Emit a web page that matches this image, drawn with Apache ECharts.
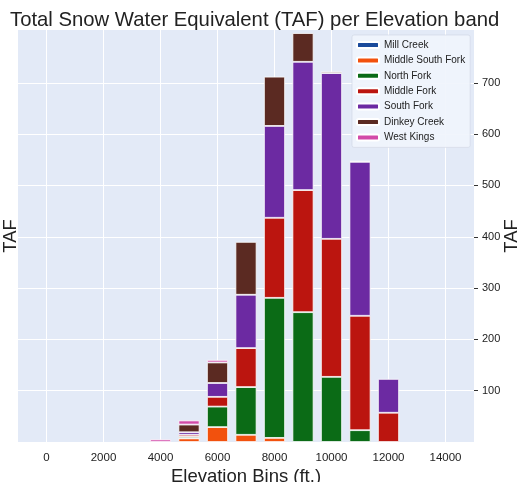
<!DOCTYPE html>
<html>
<head>
<meta charset="utf-8">
<script src="https://cdn.jsdelivr.net/npm/echarts@6/dist/echarts.min.js"></script>
<style>
html,body{margin:0;padding:0;background:#fff;}
#chart{width:529px;height:482px;}
</style>
</head>
<body>
<div id="chart"></div>
<script>
// Elevation bin centres (ft.) that carry bars
const elevationBins = [4000, 5000, 6000, 7000, 8000, 9000, 10000, 11000, 12000];
// Tick labels of the x axis
const xTickLabels = [0, 2000, 4000, 6000, 8000, 10000, 12000, 14000];
// Tick labels of the y axis
const yTickLabels = [100, 200, 300, 400, 500, 600, 700];

// Series values (TAF) per elevation bin
const millCreek       = [0, 0, 0, 0, 0, 0, 0, 0, 0];
const middleSouthFork = [0, 7, 29, 14, 8, 0, 0, 0, 0];
const northFork       = [0, 3, 40, 93, 273, 253, 127, 23, 0];
const middleFork      = [0, 4, 19, 76, 156, 238, 269, 223, 57];
const southFork       = [0, 5, 27, 104, 179, 250, 323, 300, 66];
const dinkeyCreek     = [0, 15, 40, 103, 96, 56, 3, 2, 0];
const westKings       = [5, 8, 5, 0, 0, 0, 0, 0, 0];

const seriesNames = ['Mill Creek', 'Middle South Fork', 'North Fork', 'Middle Fork', 'South Fork', 'Dinkey Creek', 'West Kings'];
const seriesValues = [millCreek, middleSouthFork, northFork, middleFork, southFork, dinkeyCreek, westKings];
const seriesColors = ['#1b4b9b', '#f2510d', '#0b6b16', '#bb150f', '#6c2aa2', '#5b2a22', '#d24aa8'];

// category axis spanning the visible elevation range, one slot per 1000 ft
const xCategories = [];
for (let v = -1000; v <= 15000; v += 1000) xCategories.push(String(v));
const showTick = (idx, val) => xTickLabels.indexOf(Number(val)) >= 0;

const FONT = 'Liberation Sans, Arial, sans-serif';

const chart = echarts.init(document.getElementById('chart'), null, {renderer: 'canvas'});
chart.setOption({
  animation: false,
  backgroundColor: '#ffffff',
  title: {
    text: 'Total Snow Water Equivalent (TAF) per Elevation band',
    left: 5, top: 5,
    textStyle: {fontFamily: FONT, fontSize: 20.3, fontWeight: 'normal', color: '#222'}
  },
  legend: {
    orient: 'vertical',
    left: 352, top: 35,
    itemWidth: 22, itemHeight: 6, itemGap: 5.4,
    icon: 'roundRect',
    backgroundColor: 'rgba(240,244,252,0.92)',
    borderColor: '#cfd5e2', borderWidth: 0.6, borderRadius: 2,
    padding: [5, 5, 5, 4],
    textStyle: {fontFamily: FONT, fontSize: 10, color: '#222'},
    data: seriesNames
  },
  grid: {
    left: 18, right: 55, top: 30, bottom: 40,
    outerBoundsMode: 'none',
    containLabel: false,
    show: true, backgroundColor: '#e3eaf7', borderWidth: 0
  },
  xAxis: {
    type: 'category',
    data: xCategories,
    boundaryGap: false,
    name: 'Elevation Bins (ft.)',
    nameLocation: 'middle',
    nameGap: 25,
    nameMoveOverlap: false,
    nameTextStyle: {fontFamily: FONT, fontSize: 18.5, color: '#222'},
    axisLine: {show: false},
    axisTick: {show: false},
    axisLabel: {interval: showTick, fontFamily: FONT, fontSize: 11.5, color: '#222', margin: 10},
    splitLine: {show: true, interval: showTick, lineStyle: {color: '#ffffff', width: 1}}
  },
  yAxis: [{
    type: 'value',
    position: 'right',
    min: 0, max: 803, interval: 100,
    name: 'TAF',
    nameLocation: 'middle',
    nameGap: 28,
    nameMoveOverlap: false,
    nameTextStyle: {fontFamily: FONT, fontSize: 18.5, color: '#222'},
    axisLine: {show: false},
    axisTick: {show: true, length: 4, customValues: yTickLabels, lineStyle: {color: '#333'}},
    axisLabel: {
      fontFamily: FONT, fontSize: 11, color: '#222', margin: 8,
      customValues: yTickLabels
    },
    splitLine: {show: true, lineStyle: {color: '#ffffff', width: 1}}
  }, {
    type: 'value',
    position: 'left',
    min: 0, max: 803, interval: 100,
    name: 'TAF',
    nameLocation: 'middle',
    nameGap: -2,
    nameMoveOverlap: false,
    nameTextStyle: {fontFamily: FONT, fontSize: 18.5, color: '#222'},
    axisLine: {show: false},
    axisTick: {show: false},
    axisLabel: {show: false},
    splitLine: {show: false}
  }],
  series: seriesNames.map((name, s) => ({
    name: name,
    type: 'bar',
    stack: 'total',
    yAxisIndex: 0,
    barWidth: '74%',
    itemStyle: {color: seriesColors[s], borderColor: '#ffffff', borderWidth: 0.8},
    data: elevationBins.map((b, i) => [String(b), seriesValues[s][i] === 0 ? '-' : seriesValues[s][i]])
  }))
});
</script>
</body>
</html>
